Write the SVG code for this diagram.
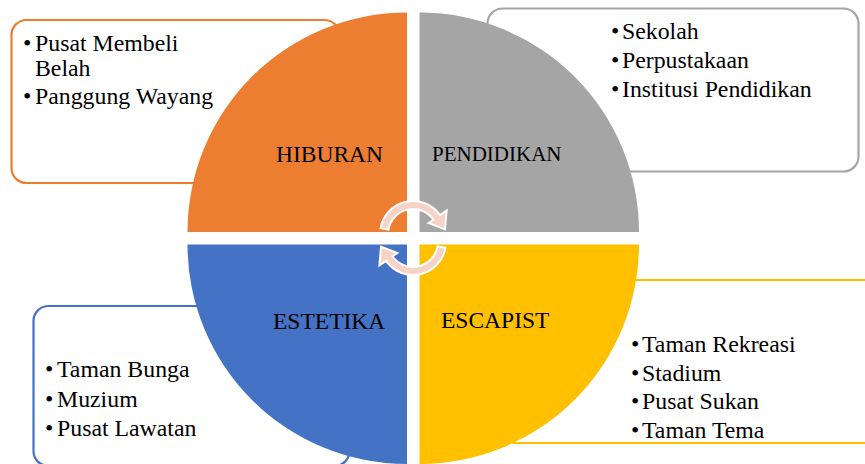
<svg xmlns="http://www.w3.org/2000/svg" width="865" height="464" viewBox="0 0 865 464">
<style>
.box{fill:#fff;stroke-width:2.2}
.arr{fill:#F7D3C7;stroke:#fff;stroke-width:2;stroke-linejoin:miter}
.t{font-family:"Liberation Serif","Times New Roman",serif;fill:#000}
.l{font-size:23.8px}
</style>
<rect width="865" height="464" fill="#fff"/>
<g id="box-hiburan"><rect class="box" x="11.5" y="20" width="328" height="163" rx="15" stroke="#ED7D31"/></g>
<g id="box-pendidikan"><rect class="box" x="487.5" y="8.5" width="371" height="163" rx="15" stroke="#A5A5A5"/></g>
<g id="box-escapist"><rect class="box" x="502" y="280" width="420" height="163" rx="15" stroke="#FFC000"/></g>
<g id="box-estetika"><rect class="box" x="33.5" y="306" width="316" height="160" rx="15" stroke="#4472C4"/></g>

<g id="hiburan">
<path d="M407,232 L407,12.5 A219.5,219.5 0 0 0 187.5,232 Z" fill="#ED7D31"/>
<text class="t" x="276" y="162" font-size="23.5">HIBURAN</text>
</g>
<g id="pendidikan">
<path d="M419.5,232 L639,232 A219.5,219.5 0 0 0 419.5,12.5 Z" fill="#A5A5A5"/>
<text class="t" x="432" y="161" font-size="21">PENDIDIKAN</text>
</g>
<g id="estetika">
<path d="M407,244.5 L187.5,244.5 A219.5,219.5 0 0 0 407,464 Z" fill="#4472C4"/>
<text class="t" x="273" y="329" font-size="23.5">ESTETIKA</text>
</g>
<g id="escapist">
<path d="M419.5,244.5 L419.5,464 A219.5,219.5 0 0 0 639,244.5 Z" fill="#FFC000"/>
<text class="t" x="441" y="328" font-size="23.5">ESCAPIST</text>
</g>

<g id="list-hiburan">
<text class="t l" x="23" y="51">•</text><text class="t l" x="35" y="51">Pusat Membeli</text>
<text class="t l" x="35" y="76">Belah</text>
<text class="t l" x="23" y="104">•</text><text class="t l" x="35" y="104">Panggung Wayang</text>
</g>
<g id="list-pendidikan">
<text class="t l" x="611" y="39">•</text><text class="t l" x="622" y="39">Sekolah</text>
<text class="t l" x="611" y="68">•</text><text class="t l" x="622" y="68">Perpustakaan</text>
<text class="t l" x="611" y="97">•</text><text class="t l" x="622" y="97">Institusi Pendidikan</text>
</g>
<g id="list-escapist">
<text class="t l" x="631" y="352">•</text><text class="t l" x="642" y="352">Taman Rekreasi</text>
<text class="t l" x="631" y="381">•</text><text class="t l" x="642" y="381">Stadium</text>
<text class="t l" x="631" y="409">•</text><text class="t l" x="642" y="409">Pusat Sukan</text>
<text class="t l" x="631" y="438">•</text><text class="t l" x="642" y="438">Taman Tema</text>
</g>
<g id="list-estetika">
<text class="t l" x="45" y="377">•</text><text class="t l" x="57" y="377">Taman Bunga</text>
<text class="t l" x="45" y="407">•</text><text class="t l" x="57" y="407">Muzium</text>
<text class="t l" x="45" y="436">•</text><text class="t l" x="57" y="436">Pusat Lawatan</text>
</g>

<g id="connectors">
<path class="arr" d="M380.5,228.3 A33,33 0 0 1 440,215.1 L446.6,210.5 L445,229.4 L428.6,223.1 L433.5,219.7 A25,25 0 0 0 388.4,229.7 Z"/>
<path class="arr" d="M445.5,247.7 A33,33 0 0 1 386,260.9 L379.4,265.5 L381,246.6 L397.4,252.9 L392.5,256.3 A25,25 0 0 0 437.6,246.3 Z"/>
</g>
</svg>
